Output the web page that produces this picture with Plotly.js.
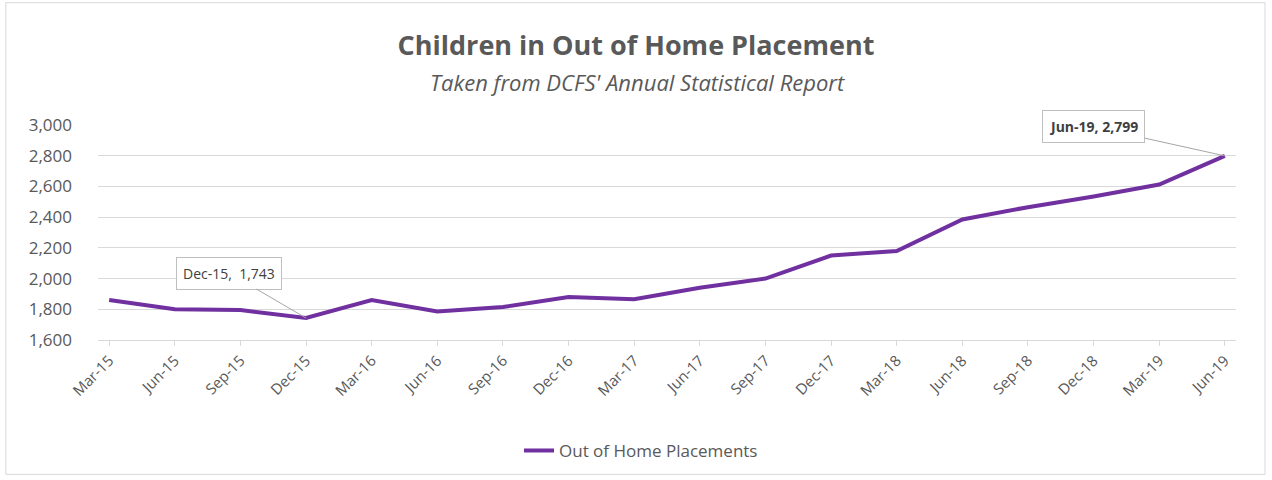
<!DOCTYPE html>
<html>
<head>
<meta charset="utf-8">
<script src="https://cdn.plot.ly/plotly-3.0.1.min.js"></script>
<style>
html,body{margin:0;padding:0;background:#fff;}
#chart{width:1272px;height:480px;}
</style>
</head>
<body>
<div id="chart"></div>
<script>
const categories = ["Mar-15","Jun-15","Sep-15","Dec-15","Mar-16","Jun-16","Sep-16","Dec-16","Mar-17","Jun-17","Sep-17","Dec-17","Mar-18","Jun-18","Sep-18","Dec-18","Mar-19","Jun-19"];
const placements = [1860,1800,1795,1743,1860,1785,1815,1880,1865,1940,2000,2150,2180,2385,2465,2535,2612,2799];
const seriesName = "Out of Home Placements";
const yTicks = [1600,1800,2000,2200,2400,2600,2800,3000];
const titleText = "Children in Out of Home Placement";
const subtitleText = "Taken from DCFS' Annual Statistical Report";

const font = "'Open Sans', Lato, sans-serif";
const gray = "#595959";

const trace = {
  x: categories.map((c,i)=>i),
  y: placements,
  type: "scatter",
  mode: "lines",
  name: seriesName,
  line: {color: "#7030A0", width: 4}
};

const layout = {
  width: 1272, height: 480,
  margin: {l: 98, r: 36, t: 125, b: 139},
  paper_bgcolor: "#ffffff",
  plot_bgcolor: "#ffffff",
  font: {family: font, color: gray, size: 14},
  title: {
    text: "<b>" + titleText + "</b>",
    x: 0.5, xanchor: "center", xref: "container",
    y: 1 - 46/480, yanchor: "middle", yref: "container",
    font: {family: font, size: 27, color: gray}
  },
  xaxis: {
    range: [-0.17, 17.17],
    tickmode: "array",
    tickvals: categories.map((c,i)=>i),
    ticktext: categories,
    tickangle: -45,
    tickfont: {size: 15, color: gray},
    showgrid: false,
    zeroline: false,
    showline: true,
    linecolor: "#d9d9d9",
    linewidth: 1,
    ticks: "outside",
    ticklen: 5,
    tickcolor: "#d9d9d9",
    fixedrange: true
  },
  yaxis: {
    range: [1600, 3000],
    tickmode: "array",
    tickvals: yTicks,
    ticktext: yTicks.map(v => v.toLocaleString("en-US")),
    tickfont: {size: 17, color: gray},
    showgrid: true,
    gridcolor: "#d9d9d9",
    gridwidth: 1,
    zeroline: false,
    showline: false,
    ticks: "",
    ticklabelstandoff: 25,
    fixedrange: true
  },
  showlegend: true,
  legend: {
    orientation: "h",
    x: (641-98)/1138, xanchor: "center",
    y: -0.509, yanchor: "middle",
    font: {size: 17, color: gray},
    bgcolor: "rgba(0,0,0,0)"
  },
  annotations: [
    {
      xref: "paper", yref: "paper", x: (637-98)/1138, y: (341-82)/216,
      xanchor: "center", yanchor: "middle", showarrow: false,
      text: "<i>" + subtitleText + "</i>",
      font: {size: 22, color: gray, family: font}
    },
    {
      x: 3, y: placements[3], xref: "x", yref: "y",
      text: categories[3] + ",  " + placements[3].toLocaleString("en-US"),
      showarrow: true, arrowhead: 0, arrowwidth: 1, arrowcolor: "#a6a6a6",
      ax: -77, ay: -45,
      bgcolor: "#ffffff", bordercolor: "#bfbfbf", borderwidth: 1, borderpad: 6,
      font: {size: 14, color: "#404040", family: font}
    },
    {
      x: 17, y: placements[17], xref: "x", yref: "y",
      text: "<b>" + categories[17] + ", " + placements[17].toLocaleString("en-US") + "</b>",
      showarrow: true, arrowhead: 0, arrowwidth: 1, arrowcolor: "#a6a6a6",
      ax: -131, ay: -29,
      bgcolor: "#ffffff", bordercolor: "#bfbfbf", borderwidth: 1, borderpad: 6,
      font: {size: 14, color: "#404040", family: font}
    }
  ],
  shapes: [
    {
      type: "rect", xref: "paper", yref: "paper",
      x0: -0.081, x1: 1.0255, y0: -0.625, y1: 1.569,
      line: {color: "#d9d9d9", width: 1},
      fillcolor: "rgba(0,0,0,0)", layer: "below"
    }
  ]
};

Plotly.newPlot("chart", [trace], layout, {displayModeBar: false, staticPlot: true});
</script>
</body>
</html>
